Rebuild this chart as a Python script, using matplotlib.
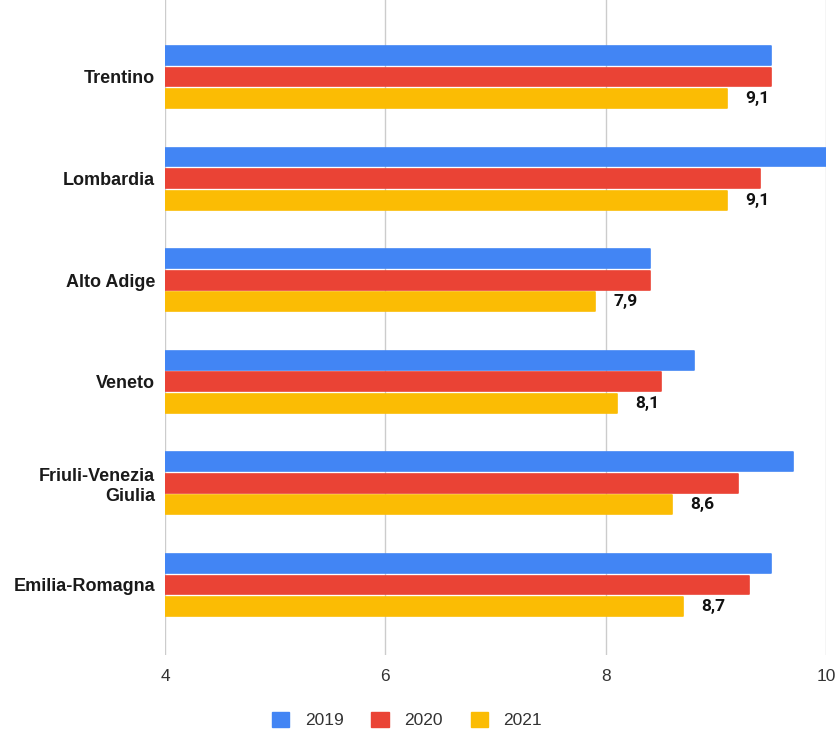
import numpy as np
import matplotlib
matplotlib.use('Agg')
import matplotlib.pyplot as plt
from matplotlib.patches import Patch

plt.rcParams['font.family'] = ['Liberation Sans', 'DejaVu Sans']

regions = ['Trentino', 'Lombardia', 'Alto Adige', 'Veneto',
           'Friuli-Venezia\nGiulia', 'Emilia-Romagna']
years = ['2019', '2020', '2021']
v2019 = [9.5, 10.0, 8.4, 8.8, 9.7, 9.5]
v2020 = [9.5, 9.4, 8.4, 8.5, 9.2, 9.3]
v2021 = [9.1, 9.1, 7.9, 8.1, 8.6, 8.7]
colors = ['#4285f4', '#ea4335', '#fbbc04']

size = 838, 729
dpi = 100.0
fig = plt.figure(figsize=(size[0] / dpi, size[1] / dpi), dpi=dpi)
ax = fig.add_axes([165 / 838, 1 - 655 / 729, 661 / 838, 655 / 729])

y = np.arange(len(regions))
h = 0.185
step = 0.212
for k, (vals, c) in enumerate(zip([v2019, v2020, v2021], colors)):
    ax.barh(y + (k - 1) * step, np.array(vals) - 4, left=4, height=h,
            color=c, edgecolor=c, linewidth=1.2, joinstyle='round', zorder=3)

# value labels on the last series only
for yi, v in zip(y, v2021):
    ax.text(v + 0.17, yi + step, f'{v:.1f}'.replace('.', ','),
            va='center', ha='left', fontsize=12.5, fontweight='bold',
            family=['Roboto', 'DejaVu Sans'], color='#111111')

ax.set_xlim(4, 10)
ax.set_ylim(5.69, -0.758)
ax.set_xticks([4, 6, 8, 10])
ax.set_xticklabels(['4', '6', '8', '10'], fontsize=12.5, color='#333333')
ax.set_yticks(y)
ax.set_yticklabels(regions, fontsize=13, fontweight='bold', color='#1a1a1a',
                   multialignment='right')
ax.tick_params(length=0, pad=7)
ax.tick_params(axis='x', pad=10)
ax.grid(axis='x', color='#cccccc', linewidth=1, zorder=0)
for s in ax.spines.values():
    s.set_visible(False)

handles = [Patch(facecolor=c, edgecolor=c, label=l) for c, l in zip(colors, years)]
fig.legend(handles=handles, loc='center', bbox_to_anchor=(407 / 838, 1 - 720 / 729),
           ncol=3, frameon=False, fontsize=12.5, handlelength=1.0, handleheight=1.0,
           columnspacing=1.6, handletextpad=0.9, labelcolor='#333333')

fig.savefig('out.png', dpi=dpi)
